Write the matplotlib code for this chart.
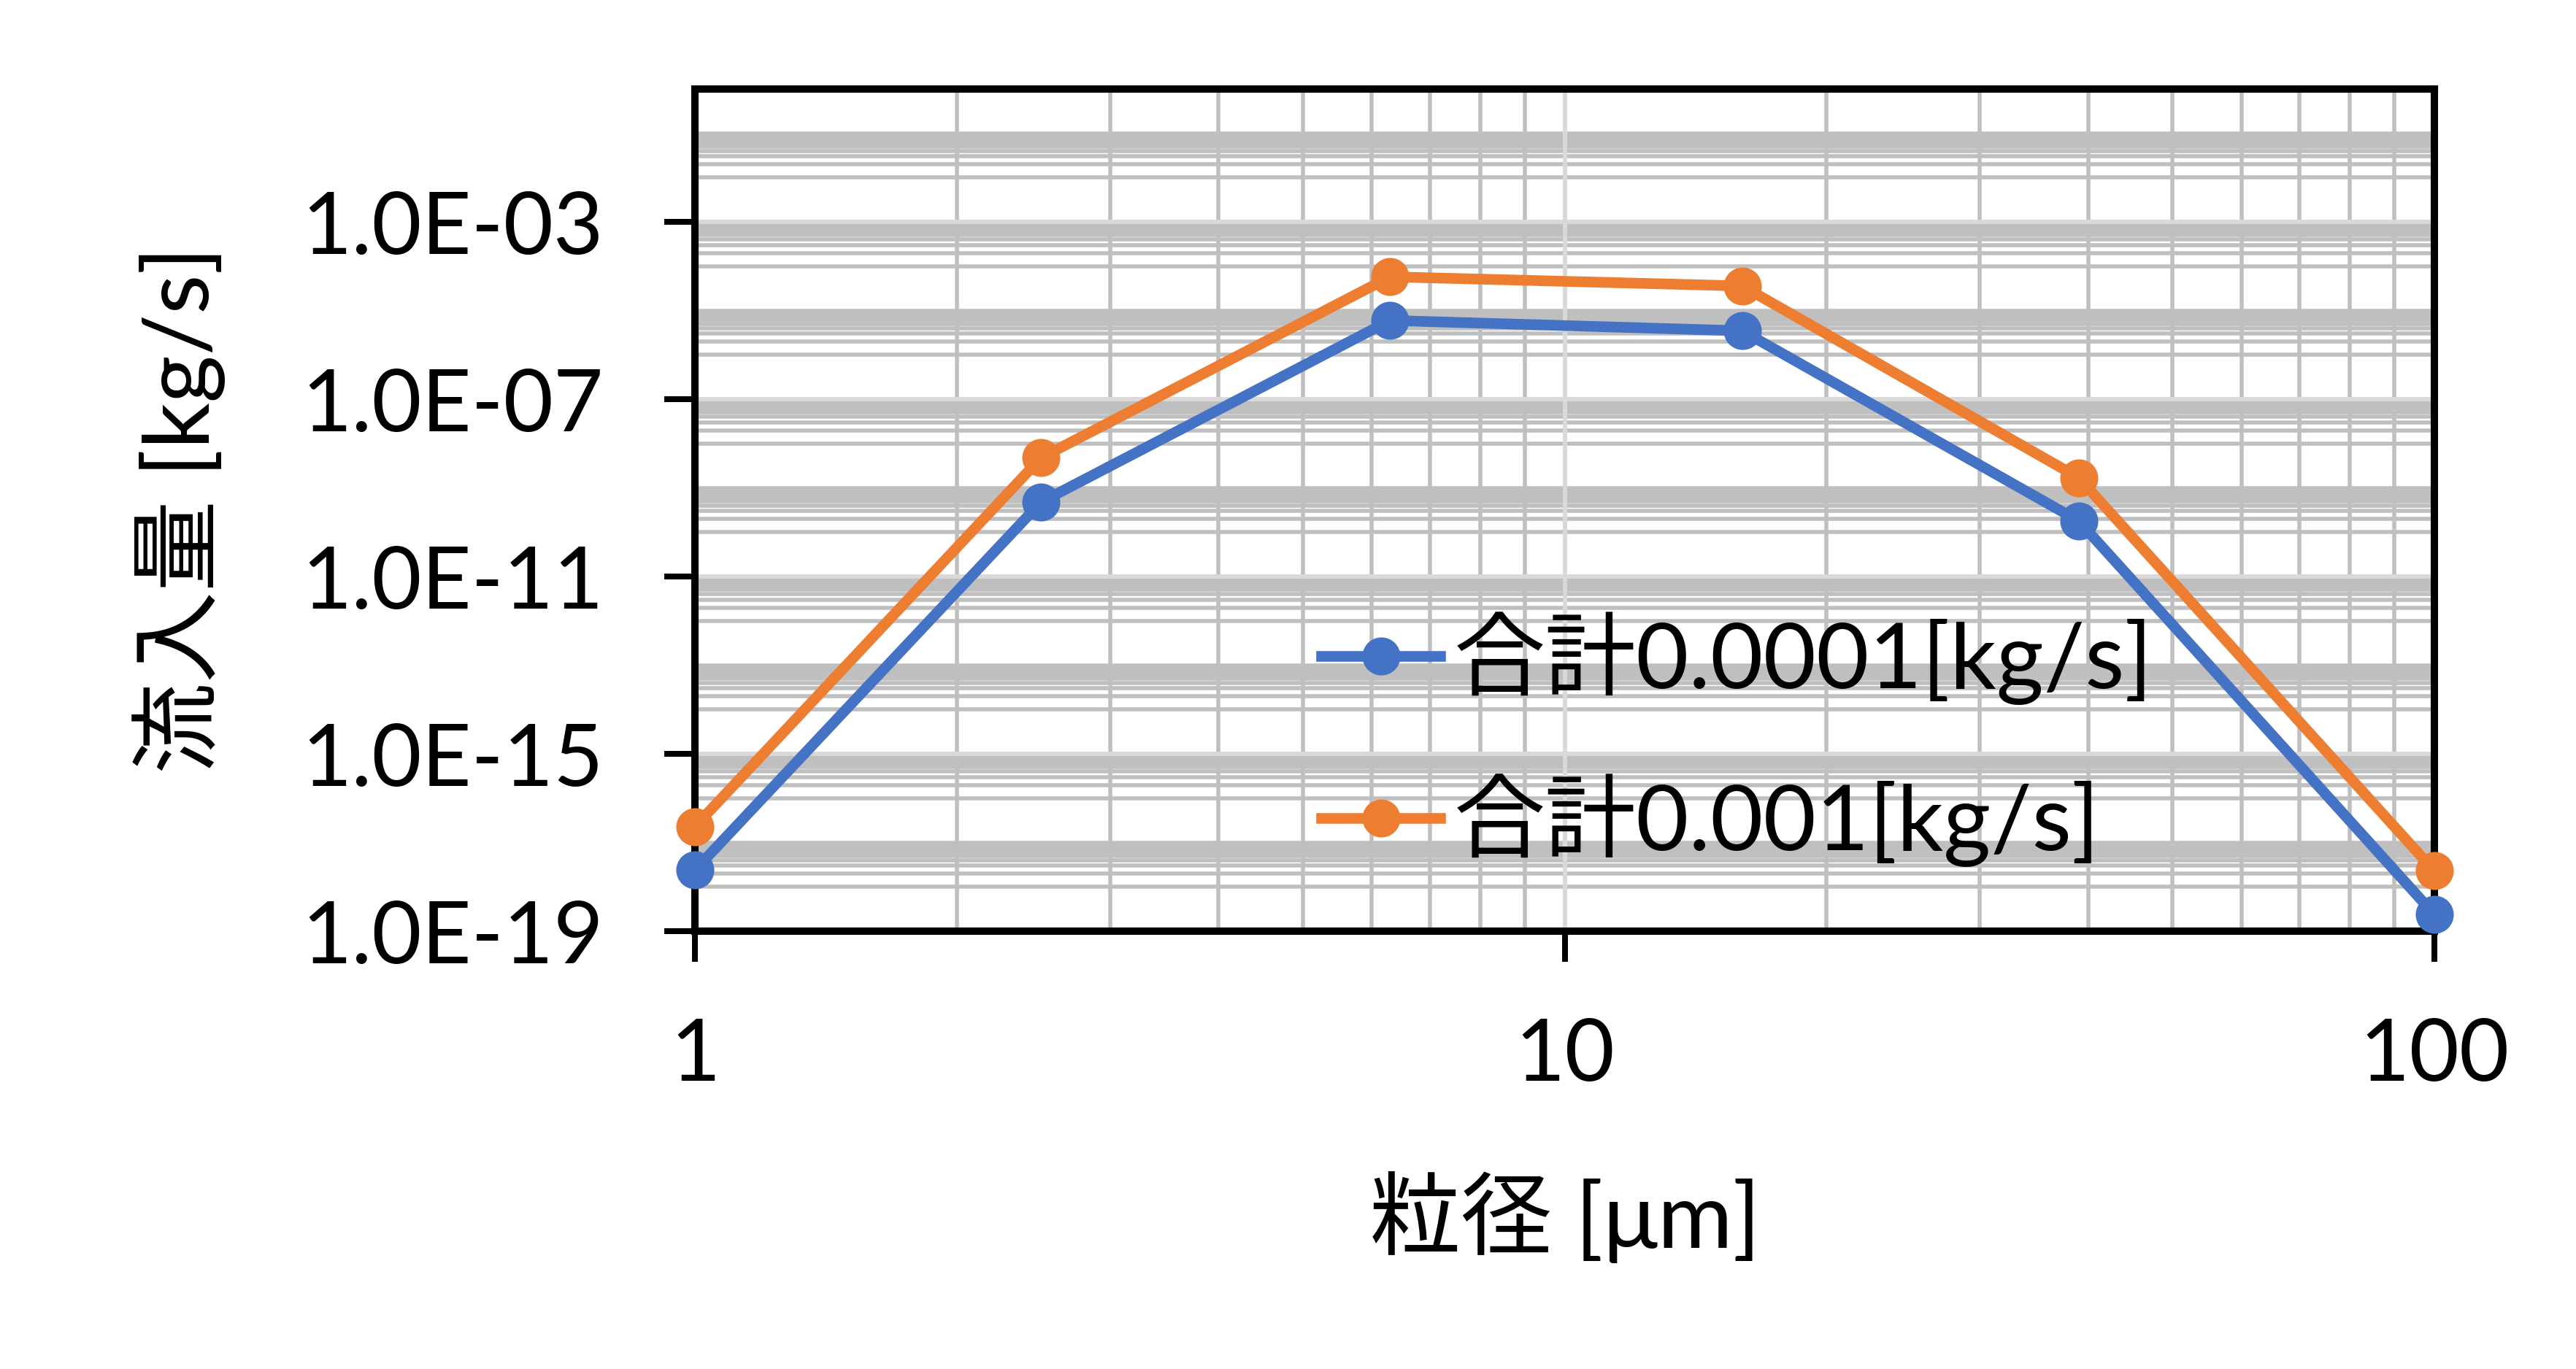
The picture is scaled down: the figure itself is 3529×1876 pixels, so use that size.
import matplotlib
matplotlib.use("Agg")
import matplotlib.pyplot as plt
from matplotlib.ticker import FixedLocator, NullFormatter

plt.rcParams["font.family"] = ["Lato", "Noto Sans CJK JP", "DejaVu Sans"]

BLUE = "#4472C4"
ORANGE = "#ED7D31"
GRID_MINOR = "#BFBFBF"
GRID_MAJOR = "#D9D9D9"

# particle size [um]
diameters = [1, 2.5, 6.3, 16, 39, 100]
# inflow [kg/s]
flow_total_1e4 = [2.4e-18, 4.8e-10, 6.0e-6, 3.5e-6, 1.8e-10, 2.4e-19]
flow_total_1e3 = [2.3e-17, 4.8e-9, 5.8e-5, 3.6e-5, 1.7e-9, 2.3e-18]
series_labels = ["合計0.0001[kg/s]", "合計0.001[kg/s]"]

x_major = [1, 10, 100]
x_minor = [2, 3, 4, 5, 6, 7, 8, 9, 20, 30, 40, 50, 60, 70, 80, 90]
y_major_exp = [-19, -15, -11, -7, -3]
y_minor = [k * 10.0 ** e for e in range(-20, 1, 2) for k in range(1, 11)]

FS = 36

fig = plt.figure(figsize=(3529 / 250, 1876 / 250), dpi=250, facecolor="white")
ax = fig.add_axes([0.2698, 0.3198, 0.6752, 0.6152])
ax.set_xscale("log")
ax.set_yscale("log")
ax.set_xlim(1, 100)
ax.set_ylim(1e-19, 1)

ax.xaxis.set_major_locator(FixedLocator(x_major))
ax.set_xticklabels([str(v) for v in x_major])
ax.xaxis.set_minor_locator(FixedLocator(x_minor))
ax.xaxis.set_minor_formatter(NullFormatter())

y_major = [10.0 ** e for e in y_major_exp]
ax.yaxis.set_major_locator(FixedLocator(y_major))
ax.set_yticklabels([f"1.0E-{abs(e):02d}" for e in y_major_exp])
ax.yaxis.set_minor_locator(FixedLocator([v for v in y_minor if 1e-19 <= v <= 1]))
ax.yaxis.set_minor_formatter(NullFormatter())

ax.grid(which="minor", color=GRID_MINOR, linewidth=1.6)
ax.grid(which="major", visible=False)
for v in x_major[1:-1]:
    ax.axvline(v, color=GRID_MAJOR, linewidth=1.7, zorder=2.6)
for v in y_major[1:]:
    ax.axhline(v, color=GRID_MAJOR, linewidth=1.7, zorder=2.6)

ax.tick_params(which="minor", length=0)
ax.tick_params(which="major", direction="out", length=12, width=2.3,
               labelsize=34, color="black")
ax.tick_params(axis="y", pad=24)
ax.tick_params(axis="x", pad=22)
for sp in ax.spines.values():
    sp.set_linewidth(2.9)
    sp.set_color("black")
    sp.set_zorder(5)

ax.plot(diameters, flow_total_1e4, color=BLUE, lw=4.2, marker="o", ms=15,
        mew=0, label=series_labels[0], zorder=6, clip_on=False)
ax.plot(diameters, flow_total_1e3, color=ORANGE, lw=4.2, marker="o", ms=15,
        mew=0, label=series_labels[1], zorder=6, clip_on=False)

ax.set_xlabel("粒径 [μm]", fontsize=FS, labelpad=30)
ax.set_ylabel("流入量 [kg/s]", fontsize=FS, labelpad=30)

fig.legend(loc="center left", bbox_to_anchor=(0.513, 0.4600), frameon=False,
           fontsize=FS, handlelength=1.30, handletextpad=0.15, labelspacing=0.75,
           borderpad=0, borderaxespad=0, numpoints=1)

fig.savefig("out.png", dpi=250, facecolor="white")
